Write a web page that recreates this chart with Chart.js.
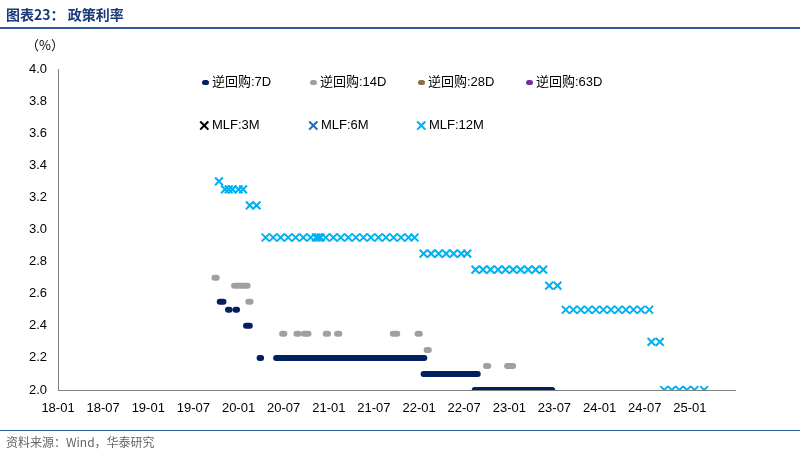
<!DOCTYPE html>
<html><head><meta charset="utf-8">
<script src="https://cdn.jsdelivr.net/npm/chart.js@4"></script>
<style>
body{margin:0;width:800px;height:455px;position:relative;font-family:"Noto Sans CJK SC","DejaVu Sans",sans-serif;background:#fff;overflow:hidden}
#title{position:absolute;left:6px;top:4px;font-size:14px;font-weight:bold;color:#1a3a78;z-index:2}
#tline{position:absolute;left:0;top:27px;width:800px;height:2px;background:#2e5a9c;z-index:2}
#bline{position:absolute;left:0;top:430px;width:800px;height:1px;background:#2e5a9c;z-index:2}
#src{position:absolute;left:6px;top:433px;font-size:12px;color:#666;z-index:2}
#unit{position:absolute;left:26px;top:35px;font-size:13px;color:#000;z-index:2}
.lg{position:absolute;font-size:13px;font-family:Arial,"Noto Sans CJK SC",sans-serif;color:#000;white-space:nowrap;z-index:2}
.lg i{display:inline-block;vertical-align:middle;margin-right:3px}
.dot{width:7px;height:5px;border-radius:3px}
.x{font-style:normal !important;font-size:15px;font-weight:bold;margin-right:1px !important}
canvas{position:absolute;left:0;top:0}
</style></head><body>
<div id="title">图表23： 政策利率</div><div id="tline"></div>
<div id="unit">（%）</div>
<div id="bline"></div><div id="src">资料来源：Wind，华泰研究</div>
<div class="lg" style="left:202px;top:71px"><i class="dot" style="background:#002060"></i>逆回购:7D</div>
<div class="lg" style="left:310px;top:71px"><i class="dot" style="background:#a0a0a0"></i>逆回购:14D</div>
<div class="lg" style="left:418px;top:71px"><i class="dot" style="background:#8c6e4c"></i>逆回购:28D</div>
<div class="lg" style="left:526px;top:71px"><i class="dot" style="background:#7030a0"></i>逆回购:63D</div>
<div class="lg" style="left:198px;top:117px"><i class="x" style="color:#000">✕</i>MLF:3M</div>
<div class="lg" style="left:307px;top:117px"><i class="x" style="color:#1f6fc0">✕</i>MLF:6M</div>
<div class="lg" style="left:415px;top:117px"><i class="x" style="color:#00b0f0">✕</i>MLF:12M</div>
<canvas id="c" width="800" height="455"></canvas>
<script>
// x = months since 2018-01
const rr7Segs = [[21.5,22.0,2.55],[22.6,22.8,2.50],[23.6,23.8,2.50],[25.0,25.5,2.40],[26.8,27.0,2.20],[29.0,48.7,2.20],[48.6,55.8,2.10],[55.4,65.7,2.00]];
const rr14Segs = [[20.8,21.1,2.70],[23.4,25.2,2.65],[25.3,25.6,2.55],[29.8,30.1,2.35],[31.7,32.0,2.35],[32.7,33.3,2.35],[35.6,35.9,2.35],[37.1,37.4,2.35],[44.5,45.1,2.35],[47.8,48.1,2.35],[49.0,49.3,2.25],[56.9,57.2,2.15],[59.7,60.5,2.15]];
const mlf12X = [21.4,22.2,22.7,23.2,24.0,24.6,25.5,26.4,
 27.6,28.6,29.6,30.6,31.6,32.6,33.6,34.3,34.6,34.9,35.6,36.6,37.6,38.6,39.6,40.6,41.6,42.6,43.6,44.6,45.6,46.6,47.4,
 48.6,49.6,50.6,51.6,52.6,53.6,54.4,
 55.5,56.5,57.5,58.5,59.5,60.5,61.5,62.5,63.5,64.5,
 65.3,66.4,
 67.5,68.5,69.5,70.5,71.5,72.5,73.5,74.5,75.5,76.5,77.5,78.6,
 78.9,80.0,
 80.6,81.6,82.6,83.6,84.6,85.9];
const mlf12Y = [3.30,3.25,3.25,3.25,3.25,3.25,3.15,3.15,
 2.95,2.95,2.95,2.95,2.95,2.95,2.95,2.95,2.95,2.95,2.95,2.95,2.95,2.95,2.95,2.95,2.95,2.95,2.95,2.95,2.95,2.95,2.95,
 2.85,2.85,2.85,2.85,2.85,2.85,2.85,
 2.75,2.75,2.75,2.75,2.75,2.75,2.75,2.75,2.75,2.75,
 2.65,2.65,
 2.50,2.50,2.50,2.50,2.50,2.50,2.50,2.50,2.50,2.50,2.50,2.50,
 2.30,2.30,
 2.00,2.00,2.00,2.00,2.00,2.00];
const yTicks = [2.0,2.2,2.4,2.6,2.8,3.0,3.2,3.4,3.6,3.8,4.0];

function segData(segs){const d=[];segs.forEach(s=>{d.push({x:s[0],y:s[2]});d.push({x:s[1],y:s[2]});d.push({x:s[1]+0.01,y:null});});return d;}
const segDs=(lbl,segs,col,w)=>({label:lbl,data:segData(segs),showLine:true,borderColor:col,borderWidth:w,borderCapStyle:'round',pointRadius:0,spanGaps:false});
new Chart(document.getElementById('c'),{
 type:'scatter',
 data:{datasets:[
  segDs('逆回购:14D',rr14Segs,'#a0a0a0',6),
  segDs('逆回购:7D',rr7Segs,'#002060',6),
  {label:'MLF:12M',data:mlf12X.map((x,i)=>({x,y:mlf12Y[i]})),pointStyle:'crossRot',pointRadius:5.5,borderColor:'#00b0f0',borderWidth:2,backgroundColor:'#00b0f0'}
 ]},
 options:{responsive:false,animation:false,devicePixelRatio:1,
  layout:{padding:{left:0,top:69,right:65,bottom:43}},
  plugins:{legend:{display:false},tooltip:{enabled:false}},
  scales:{
   x:{type:'linear',min:0,max:90.0,grid:{display:false,drawTicks:true},border:{color:'#808080'},
      afterBuildTicks:a=>{a.ticks=[];for(let m=0;m<=84;m+=6)a.ticks.push({value:m});},
      ticks:{color:'#000',font:{size:13,family:'Arial'},maxRotation:0,autoSkip:false,
        callback:v=>String(18+Math.floor(v/12))+'-'+String(v%12+1).padStart(2,'0')},
      afterFit:s=>{s.height=22;}},
   y:{min:2.0,max:4.0,grid:{display:false},border:{color:'#808080'},
      afterBuildTicks:a=>{a.ticks=yTicks.map(v=>({value:v}));},
      ticks:{color:'#000',font:{size:13,family:'Arial'},callback:v=>v.toFixed(1)},
      afterFit:s=>{s.width=58;}}
  }
 }
});
</script>
</body></html>
